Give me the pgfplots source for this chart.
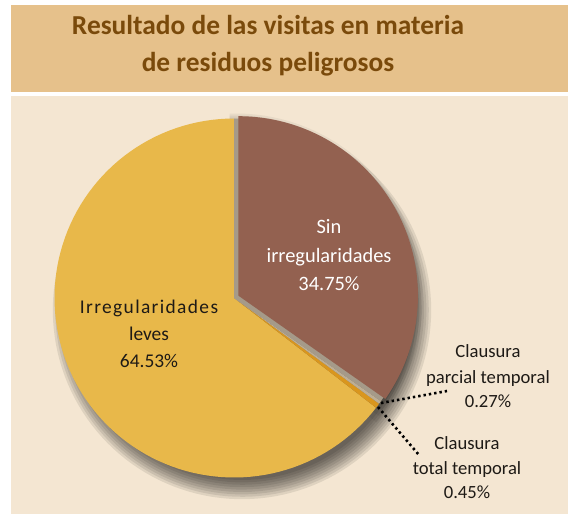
\documentclass[border=0pt]{standalone}
\usepackage{fontspec}
\setmainfont{Carlito}
\usepackage{pgfplots}
\pgfplotsset{compat=1.18}
\definecolor{titlebg}{HTML}{E6C18B}
\definecolor{titlefg}{HTML}{7A4A0B}
\definecolor{panel}{HTML}{F4E6D2}
\definecolor{cyellow}{HTML}{E8B84A}
\definecolor{cbrown}{HTML}{936150}
\definecolor{corange}{HTML}{D9961E}
\definecolor{cparcial}{HTML}{BDAE95}
\definecolor{cgap}{HTML}{A59A89}
\definecolor{ctext}{HTML}{1E1A16}
% data (percent)
\def\pSin{34.75}
\def\pParcial{0.27}
\def\pTotal{0.45}
\def\pLeves{64.53}
% geometry (pixels)
\def\cx{234}\def\cy{298}\def\R{179.5}
\newcommand\slice[6]{% options, cx, cy, r, from, to
  \addplot[#1, domain=#5:#6, samples=100, variable=\t]
    ({(#2)+(#4)*cos(\t)},{(#3)-(#4)*sin(\t)}) -- (axis cs:#2,#3) -- cycle;
}
\newcommand\lbl[4]{\node[anchor=base, inner sep=0pt, #4] at (axis cs:#1,#2) {#3};}
\begin{document}
\begin{tikzpicture}
\pgfmathsetmacro\aA{90-3.6*\pSin}
\pgfmathsetmacro\aB{\aA-3.6*\pParcial}
\pgfmathsetmacro\aC{\aB-3.6*\pTotal}
\pgfmathsetmacro\aD{\aC-3.6*\pLeves}
\pgfmathsetmacro\mA{(90+\aA)/2}
\pgfmathsetmacro\ex{\cx+5*cos(\mA)}
\pgfmathsetmacro\ey{\cy-5*sin(\mA)}
\begin{axis}[
  width=568bp, height=514bp, scale only axis,
  xmin=0, xmax=568, ymin=0, ymax=514, y dir=reverse,
  hide axis, clip=false,
]
% backgrounds
\addplot[fill=white, draw=none] coordinates {(0,0) (568,0) (568,514) (0,514)} -- cycle;
\addplot[fill=titlebg, draw=none] coordinates {(11,5) (568,5) (568,92.5) (11,92.5)} -- cycle;
\addplot[fill=panel, draw=none] coordinates {(11,96.5) (568,96.5) (568,514) (11,514)} -- cycle;
% pie shadow
\pgfplotsinvokeforeach{0,1,2,3,4,5,6,7,8}{
  \addplot[fill=black, fill opacity=0.085, draw=none, domain=0:360, samples=150]
    ({242+(170+2.4*#1)*cos(x)},{310-(170+2.4*#1)*sin(x)}) -- cycle;
}
% shadow of the exploded slice
\pgfplotsinvokeforeach{0,1,2,3}{
  \slice{fill=black, fill opacity=0.05, draw=none}{236}{300}{\R+1+2*#1}{\aA-2*#1}{92}
}
% slices
\slice{fill=cyellow, draw=none}{\cx}{\cy}{\R}{\aD}{\aC}
\slice{fill=corange, draw=none}{\cx}{\cy}{\R}{\aC}{\aB}
\slice{fill=cgap, draw=none}{\cx}{\cy}{\R}{\aA}{90}
\slice{fill=cparcial, draw=none}{\cx}{\cy}{\R}{\aB}{\aA}
\slice{fill=cbrown, draw=none}{\ex}{\ey}{\R}{\aA}{90}
% leader lines
\addplot[black, line width=2.6bp, dash pattern=on 2.4bp off 3bp]
  coordinates {(381,403) (447,391)};
\addplot[black, line width=2.6bp, dash pattern=on 2.4bp off 3bp]
  coordinates {(378,407) (419,455)};
% title
\lbl{268}{35}{Resultado de las visitas en materia}{font=\fontsize{27.5}{30}\selectfont\bfseries, text=titlefg}
\lbl{268}{72}{de residuos peligrosos}{font=\fontsize{27.5}{30}\selectfont\bfseries, text=titlefg}
% labels
\lbl{329}{233}{Sin}{font=\fontsize{20.5}{24}\selectfont, text=white}
\lbl{329}{262}{irregularidades}{font=\fontsize{20.5}{24}\selectfont, text=white}
\lbl{329}{290}{34.75\%}{font=\fontsize{20.5}{24}\selectfont, text=white}
\lbl{149}{313}{\addfontfeature{LetterSpace=7}Irregularidades}{font=\fontsize{19.5}{24}\selectfont, text=ctext}
\lbl{149}{340}{leves}{font=\fontsize{19.5}{24}\selectfont, text=ctext}
\lbl{149}{367}{64.53\%}{font=\fontsize{19.5}{24}\selectfont, text=ctext}
\lbl{488}{357}{Clausura}{font=\fontsize{18.7}{22}\selectfont, text=ctext}
\lbl{488}{383}{parcial temporal}{font=\fontsize{18.7}{22}\selectfont, text=ctext}
\lbl{488}{407}{0.27\%}{font=\fontsize{18.7}{22}\selectfont, text=ctext}
\lbl{467}{449}{Clausura}{font=\fontsize{18.7}{22}\selectfont, text=ctext}
\lbl{467}{474}{total temporal}{font=\fontsize{18.7}{22}\selectfont, text=ctext}
\lbl{467}{498}{0.45\%}{font=\fontsize{18.7}{22}\selectfont, text=ctext}
\end{axis}
\pgfresetboundingbox
\path[use as bounding box] (current axis.south west) rectangle (current axis.north east);
\end{tikzpicture}
\end{document}
